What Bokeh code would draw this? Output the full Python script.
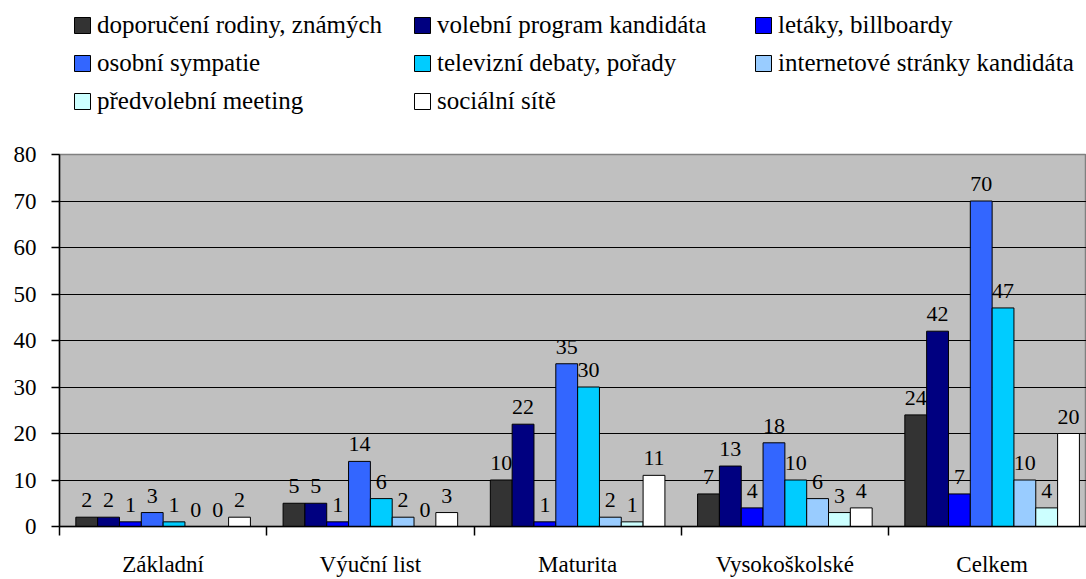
from bokeh.plotting import figure
from bokeh.models import ColumnDataSource, FixedTicker, Legend, LegendItem, Range1d
from bokeh.layouts import column
from bokeh.embed import file_html
from bokeh.resources import INLINE
from bokeh.core.properties import value
import numpy as np

categories = ["Základní", "Výuční list", "Maturita", "Vysokoškolské", "Celkem"]
series_names = [
    "doporučení rodiny, známých",
    "volební program kandidáta",
    "letáky, billboardy",
    "osobní sympatie",
    "televizní debaty, pořady",
    "internetové stránky kandidáta",
    "předvolební meeting",
    "sociální sítě",
]
colors = ["#333333", "#000080", "#0000FF", "#3366FF", "#00CCFF", "#99CCFF", "#CCFFFF", "#FFFFFF"]

doporuceni = [2, 5, 10, 7, 24]
volebni_program = [2, 5, 22, 13, 42]
letaky = [1, 1, 1, 4, 7]
sympatie = [3, 14, 35, 18, 70]
televize = [1, 6, 30, 10, 47]
internet = [0, 2, 2, 6, 10]
meeting = [0, 0, 1, 3, 4]
socialni_site = [2, 3, 11, 4, 20]
series_values = [doporuceni, volebni_program, letaky, sympatie, televize, internet, meeting, socialni_site]

y_ticks = [0, 10, 20, 30, 40, 50, 60, 70, 80]

FONT = "Liberation Serif"
n_cat = len(categories)
bar_w = 0.1053
LEG_H = 138

# ---------------- legend strip ----------------
pl = figure(width=1086, height=LEG_H, x_range=Range1d(0, 1), y_range=Range1d(0, 1),
            output_backend="svg", toolbar_location=None,
            x_axis_type=None, y_axis_type=None,
            min_border=0, outline_line_color=None,
            background_fill_color="white", border_fill_color="white")
pl.xgrid.visible = False
pl.ygrid.visible = False
leg_renderers = []
for name, col in zip(series_names, colors):
    # legend proxy glyph, placed below the visible strip
    r = pl.vbar(x=[0.5], top=[-1], bottom=[-2], width=0.1, fill_color=col,
                line_color="black", line_width=1)
    leg_renderers.append(r)

legend_cols = [[0, 3, 6], [1, 4, 7], [2, 5]]
legend_x = [13, 353, 694]
label_h = 28
spacing = 10
row_pitch = label_h + spacing
for ci, idxs in enumerate(legend_cols):
    items = [LegendItem(label=series_names[k], renderers=[leg_renderers[k]]) for k in idxs]
    vy = 23 + (3 - len(idxs)) * row_pitch
    leg = Legend(items=items, location=(legend_x[ci], vy), orientation="vertical",
                 glyph_width=20, glyph_height=20, label_standoff=5, spacing=spacing,
                 padding=0, margin=0, border_line_alpha=0, background_fill_alpha=0,
                 label_height=label_h, label_text_font=FONT, label_text_font_size="25px",
                 label_text_color="black")
    pl.add_layout(leg, "center")

# ---------------- main chart ----------------
p = figure(
    width=1086, height=579 - LEG_H,
    x_range=Range1d(0, (1086 - 59) / 207.25), y_range=Range1d(0, 80),
    output_backend="svg", toolbar_location=None,
    min_border_left=59, min_border_right=0, min_border_top=16, min_border_bottom=52,
    background_fill_color="#C0C0C0", border_fill_color="white",
    outline_line_color="#808080", outline_line_width=1.5,
)

for i, (name, vals, col) in enumerate(zip(series_names, series_values, colors)):
    xs = np.arange(n_cat) + 0.5 + (i - 3.5) * bar_w
    src = ColumnDataSource(dict(x=xs, top=vals, lab=[str(v) for v in vals]))
    p.vbar(x="x", top="top", bottom=0, width=bar_w, source=src,
           fill_color=col, line_color="black", line_width=1)
    p.text(x="x", y="top", text="lab", source=src, text_align="center",
           text_baseline="alphabetic", y_offset=-17,
           text_font=value(FONT), text_font_size="22px", text_color="black")

# x axis
p.xaxis.ticker = FixedTicker(ticks=[c + 0.5 for c in range(n_cat)],
                             minor_ticks=list(range(n_cat + 1)))
p.xaxis.major_label_overrides = {c + 0.5: categories[c] for c in range(n_cat)}
p.xaxis.major_tick_out = 0
p.xaxis.major_tick_in = 0
p.xaxis.minor_tick_out = 9
p.xaxis.minor_tick_in = 0
p.xaxis.minor_tick_line_color = "black"
p.xaxis.major_label_standoff = 16

# y axis
p.yaxis.ticker = FixedTicker(ticks=y_ticks)
p.yaxis.major_tick_out = 8
p.yaxis.major_tick_in = 0
p.yaxis.minor_tick_out = 0
p.yaxis.minor_tick_in = 0
p.yaxis.major_label_standoff = 15

for ax in [p.xaxis, p.yaxis]:
    ax.axis_line_color = "black"
    ax.axis_line_width = 1.5
    ax.major_tick_line_color = "black"
    ax.major_tick_line_width = 1.5
    ax.minor_tick_line_width = 1.5
    ax.major_label_text_font = FONT
    ax.major_label_text_font_size = "23px"
    ax.major_label_text_color = "black"

p.xgrid.visible = False
p.ygrid.ticker = FixedTicker(ticks=y_ticks[1:-1])
p.ygrid.grid_line_color = "black"
p.ygrid.grid_line_width = 1.2

layout = column(pl, p, spacing=0)
open("out.html", "w").write(file_html(layout, INLINE))
